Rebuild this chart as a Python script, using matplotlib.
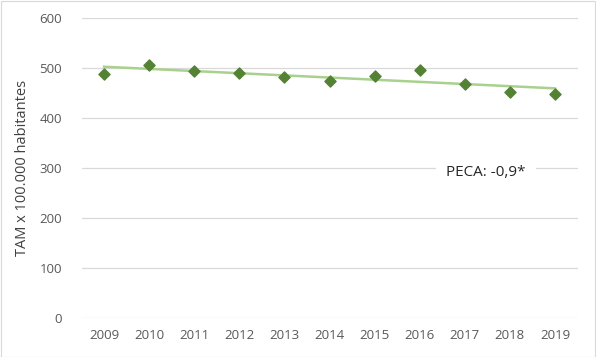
import numpy as np
import matplotlib.pyplot as plt
from matplotlib.patches import Rectangle

# datos
anios = [2009, 2010, 2011, 2012, 2013, 2014, 2015, 2016, 2017, 2018, 2019]
tam = [489, 506, 495, 490, 483, 475, 485, 496, 469, 453, 449]
etiqueta_peca = "PECA: -0,9*"

plt.rcParams['font.family'] = ['Open Sans', 'DejaVu Sans']

fig = plt.figure(figsize=(5.96, 3.57), dpi=100)
ax = fig.add_axes([81.5 / 596, 1 - 318 / 357, 496 / 596, 300 / 357])

x = np.arange(len(anios))
ax.scatter(x, tam, marker="D", s=32, color="#548235", zorder=3)

# linea de tendencia
pend, orig = np.polyfit(x, tam, 1)
ax.plot(x, pend * x + orig, color="#A9D18E", lw=1.8, zorder=2)

ax.set_xlim(-0.5, len(anios) - 0.5)
ax.set_ylim(0, 600)
ax.set_yticks(range(0, 601, 100))
ax.set_xticks(x)
ax.set_xticklabels([str(a) for a in anios])
ax.grid(axis="y", color="#D9D9D9", lw=0.9)
ax.set_axisbelow(True)
for s in ax.spines.values():
    s.set_visible(False)
ax.tick_params(length=0, colors="#595959", labelsize=9.5, pad=8)
ax.tick_params(axis="y", pad=14)
ax.set_ylabel("TAM x 100.000 habitantes", color="#404040", fontsize=10.5, labelpad=7)

ax.text(486 / 596, 1 - 172 / 357, etiqueta_peca, transform=fig.transFigure,
        ha="center", va="center", fontsize=11, color="#262626",
        bbox=dict(facecolor="white", edgecolor="none", pad=7), zorder=4)

# borde del grafico
fig.patches.append(Rectangle((0.5 / 596, 0.5 / 357), 594.5 / 596, 355.5 / 357,
                             transform=fig.transFigure, fill=False,
                             edgecolor="#D9D9D9", lw=0.8))

fig.savefig("out.png", dpi=100)
